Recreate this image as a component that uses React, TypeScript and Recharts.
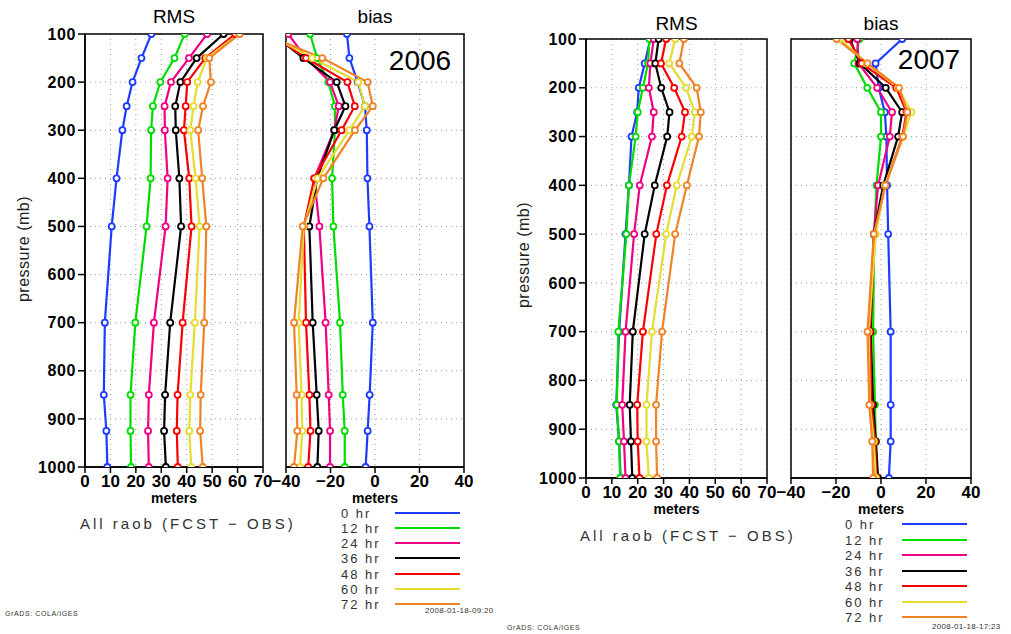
import { LineChart, Line, XAxis, YAxis, CartesianGrid, ReferenceArea } from 'recharts';

// pressure levels (mb), top of the atmosphere first
const levels = [100, 150, 200, 250, 300, 400, 500, 700, 850, 925, 1000];
const pressureTicks = [100, 200, 300, 400, 500, 600, 700, 800, 900, 1000];
const rmsTicks = [0, 10, 20, 30, 40, 50, 60, 70];
const biasTicks = [-40, -20, 0, 20, 40];

const seriesNames = ['0 hr', '12 hr', '24 hr', '36 hr', '48 hr', '60 hr', '72 hr'];
const seriesColors = ['#1e3cff', '#00dc00', '#f00082', '#000000', '#fa0000', '#e6dc32', '#f08228'];

// one row per forecast hour, one value per level
const rms2006 = [
  [26.1, 22.2, 18.7, 16.4, 14.7, 12.4, 10.5, 7.8, 7.4, 8.4, 8.8],
  [39.2, 35.2, 29.6, 26.7, 26.0, 25.8, 24.2, 19.8, 17.9, 17.9, 18.1],
  [48.0, 40.9, 33.8, 31.3, 31.4, 32.5, 31.7, 27.1, 25.1, 24.8, 25.1],
  [54.5, 43.9, 37.5, 35.5, 35.7, 37.1, 37.8, 33.5, 31.5, 31.1, 31.8],
  [59.1, 47.3, 40.2, 39.6, 38.9, 41.0, 41.9, 38.4, 36.4, 36.1, 36.5],
  [60.4, 48.0, 44.3, 42.7, 41.4, 43.5, 45.1, 43.2, 41.4, 41.0, 41.8],
  [60.8, 48.9, 49.5, 46.4, 44.5, 46.1, 47.7, 46.9, 45.5, 45.3, 46.3],
];

const bias2006 = [
  [-12.6, -11.5, -7.8, -4.5, -3.7, -3.4, -2.5, -1.0, -2.4, -3.3, -4.2],
  [-29.2, -26.0, -21.0, -18.0, -18.0, -19.3, -18.7, -15.7, -14.5, -13.6, -13.6],
  [-39.0, -31.0, -20.2, -16.3, -18.3, -27.3, -25.0, -22.2, -20.8, -20.2, -20.2],
  [-46.0, -32.2, -17.2, -13.3, -18.3, -26.0, -29.5, -28.0, -26.2, -25.3, -25.9],
  [-47.0, -31.0, -12.4, -9.1, -15.0, -27.3, -32.0, -31.0, -29.5, -29.0, -30.0],
  [-48.0, -28.2, -7.5, -4.5, -11.5, -25.8, -32.0, -34.3, -33.0, -32.7, -33.7],
  [-50.0, -23.7, -3.3, -1.0, -9.0, -23.2, -32.5, -36.4, -35.2, -34.9, -36.4],
];

const rms2007 = [
  [24.9, 22.7, 20.4, 19.8, 17.6, 16.6, 15.3, 12.8, 11.7, 12.8, 13.4],
  [24.5, 24.0, 22.0, 20.0, 19.2, 16.6, 15.6, 12.5, 11.9, 12.8, 13.2],
  [26.2, 24.9, 24.3, 26.2, 25.5, 20.8, 18.6, 15.3, 14.0, 14.7, 15.3],
  [28.1, 26.8, 29.1, 32.3, 31.4, 26.6, 22.7, 18.1, 16.9, 17.4, 17.9],
  [31.0, 29.0, 34.1, 38.3, 37.0, 31.3, 27.2, 22.0, 19.8, 20.0, 20.7],
  [34.5, 32.2, 38.7, 42.1, 40.9, 35.1, 31.0, 25.5, 23.4, 23.4, 24.3],
  [37.9, 36.1, 42.8, 44.4, 43.7, 39.0, 34.5, 29.4, 27.1, 27.1, 27.5],
];

const bias2007 = [
  [9.4, -2.4, -1.0, 1.7, 2.4, 2.7, 3.2, 4.3, 4.3, 4.3, 3.5],
  [-9.6, -11.9, -6.1, 0.0, 0.0, -2.0, -3.0, -3.5, -2.7, -2.3, -1.7],
  [-10.5, -10.0, -1.7, 4.9, 3.9, -1.3, -3.2, -4.9, -4.2, -3.5, -2.3],
  [-13.8, -9.4, 2.1, 9.4, 7.6, 1.0, -3.2, -4.6, -3.5, -2.3, -1.3],
  [-14.5, -8.6, 6.8, 11.3, 9.5, 1.7, -2.7, -4.9, -4.2, -2.7, -2.0],
  [-18.2, -6.4, 7.6, 13.5, 9.8, 1.7, -2.3, -5.5, -4.9, -3.2, -2.3],
  [-19.7, -6.0, 8.0, 11.7, 9.8, 2.0, -3.2, -6.0, -5.2, -3.9, -3.5],
];

const font = '"Liberation Sans", Arial, sans-serif';

const fmtTick = (v: number) => (v < 0 ? '\u2212' + Math.abs(v) : String(v));

type PanelProps = {
  left: number;
  top: number;
  w: number;
  h: number;
  values: number[][];
  xDomain: [number, number];
  xTicks: number[];
  showY: boolean;
};

const Panel = ({ left, top, w, h, values, xDomain, xTicks, showY }: PanelProps) => {
  const data = levels.map((p, i) => {
    const row: Record<string, number> = { p };
    values.forEach((s, k) => {
      row['s' + k] = s[i];
    });
    return row;
  });
  const yW = showY ? 70 : 0;
  const ml = showY ? 0 : 24;
  const mt = 10;
  const mr = 14;
  const xh = 28;
  return (
    <div style={{ position: 'absolute', left: left - yW - ml, top: top - mt }}>
      <LineChart
        width={w + yW + ml + mr}
        height={h + mt + xh}
        layout="vertical"
        data={data}
        margin={{ top: mt, right: mr, bottom: 0, left: ml }}
      >
        <CartesianGrid stroke="#9a9a9a" strokeDasharray="1 4" />
        <XAxis
          type="number"
          domain={xDomain}
          ticks={xTicks}
          allowDataOverflow
          interval={0}
          height={xh}
          tickSize={6}
          tickMargin={2}
          tickFormatter={fmtTick}
          tick={{ fontSize: 17, fontWeight: 700, fill: '#000', fontFamily: font }}
          axisLine={{ stroke: '#000', strokeWidth: 1.5 }}
          tickLine={{ stroke: '#000', strokeWidth: 1.5 }}
        />
        <YAxis
          type="number"
          dataKey="p"
          domain={[100, 1000]}
          ticks={pressureTicks}
          allowDataOverflow
          interval={0}
          width={yW}
          hide={!showY}
          tickSize={7}
          tickMargin={2}
          tick={{ fontSize: 16, fontWeight: 700, fill: '#000', fontFamily: font, letterSpacing: 0.6 }}
          axisLine={{ stroke: '#000', strokeWidth: 1.5 }}
          tickLine={{ stroke: '#000', strokeWidth: 1.5 }}
        />
        <ReferenceArea
          x1={xDomain[0]}
          x2={xDomain[1]}
          y1={100}
          y2={1000}
          fill="none"
          stroke="#000"
          strokeWidth={1.5}
          fillOpacity={0}
        />
        {seriesNames.map((name, k) => (
          <Line
            key={name}
            name={name}
            dataKey={'s' + k}
            stroke={seriesColors[k]}
            strokeWidth={2.2}
            dot={{ r: 3, fill: '#fff', stroke: seriesColors[k], strokeWidth: 1.8 }}
            isAnimationActive={false}
          />
        ))}
      </LineChart>
    </div>
  );
};

type TextProps = {
  x: number;
  y: number;
  children: React.ReactNode;
  size: number;
  anchor?: 'start' | 'middle' | 'end';
  bold?: boolean;
  color?: string;
  spacing?: number;
  rotate?: boolean;
};

const Label = ({ x, y, children, size, anchor = 'middle', bold, color = '#000', spacing = 0, rotate }: TextProps) => {
  const tx = anchor === 'start' ? '0' : anchor === 'end' ? '-100%' : '-50%';
  return (
    <div
      style={{
        position: 'absolute',
        left: x,
        top: y,
        transform: `translate(${tx}, -50%)${rotate ? ' rotate(-90deg)' : ''}`,
        fontSize: size,
        fontWeight: bold ? 700 : 400,
        color,
        letterSpacing: spacing,
        whiteSpace: 'nowrap',
        lineHeight: 1,
      }}
    >
      {children}
    </div>
  );
};

type FigureProps = {
  rmsBox: [number, number, number, number];
  biasBox: [number, number, number, number];
  rms: number[][];
  bias: number[][];
  year: string;
  yearPos: [number, number];
  titleY: number;
  metersY: number;
  pressurePos: [number, number];
  noteX: number;
  noteY: number;
  legendX: number;
  legendLineX: [number, number];
  legendY: number;
  legendStep: number;
  footerLeft: [number, number];
  stamp: string;
  stampPos: [number, number];
};

const Figure = (f: FigureProps) => {
  const [rx, ry, rw, rh] = f.rmsBox;
  const [bx, by, bw, bh] = f.biasBox;
  return (
    <>
      <Panel left={rx} top={ry} w={rw} h={rh} values={f.rms} xDomain={[0, 70]} xTicks={rmsTicks} showY />
      <Panel left={bx} top={by} w={bw} h={bh} values={f.bias} xDomain={[-40, 40]} xTicks={biasTicks} showY={false} />
      <Label x={rx + rw / 2} y={f.titleY} size={19}>RMS</Label>
      <Label x={bx + bw / 2} y={f.titleY} size={19}>bias</Label>
      <Label x={f.yearPos[0]} y={f.yearPos[1]} size={28}>{f.year}</Label>
      <Label x={f.pressurePos[0]} y={f.pressurePos[1]} size={16} color="#222" spacing={0.5} rotate>
        pressure (mb)
      </Label>
      <Label x={rx + rw / 2} y={f.metersY} size={14} bold>meters</Label>
      <Label x={bx + bw / 2} y={f.metersY} size={14} bold>meters</Label>
      <Label x={f.noteX} y={f.noteY} size={15} anchor="start" color="#333" spacing={3}>
        All raob (FCST − OBS)
      </Label>
      {seriesNames.map((name, k) => (
        <div key={name}>
          <Label x={f.legendX} y={f.legendY + k * f.legendStep} size={13} anchor="start" color="#333" spacing={2}>
            {name}
          </Label>
          <div
            style={{
              position: 'absolute',
              left: f.legendLineX[0],
              top: Math.round(f.legendY + k * f.legendStep - 1),
              width: f.legendLineX[1] - f.legendLineX[0],
              height: 2,
              background: seriesColors[k],
            }}
          />
        </div>
      ))}
      <Label x={f.footerLeft[0]} y={f.footerLeft[1]} size={7} anchor="start" color="#333" spacing={0.6}>
        GrADS: COLA/IGES
      </Label>
      <Label x={f.stampPos[0]} y={f.stampPos[1]} size={8} anchor="start" color="#333" spacing={0.3}>
        {f.stamp}
      </Label>
    </>
  );
};

export default function App() {
  return (
    <div
      style={{
        position: 'absolute',
        left: 0,
        top: 0,
        width: 1011,
        height: 634,
        background: '#fff',
        fontFamily: font,
        overflow: 'hidden',
      }}
    >
      <Figure
        rmsBox={[85, 34, 178, 433]}
        biasBox={[286, 34, 178, 433]}
        rms={rms2006}
        bias={bias2006}
        year="2006"
        yearPos={[420, 61]}
        titleY={16}
        metersY={498}
        pressurePos={[24, 249]}
        noteX={80}
        noteY={523}
        legendX={341}
        legendLineX={[395, 460]}
        legendY={512.7}
        legendStep={15.2}
        footerLeft={[5, 613]}
        stamp="2008-01-18-09:20"
        stampPos={[425, 611]}
      />
      <Figure
        rmsBox={[586, 39, 181, 439]}
        biasBox={[791, 39, 180, 439]}
        rms={rms2007}
        bias={bias2007}
        year="2007"
        yearPos={[929, 60]}
        titleY={23}
        metersY={509}
        pressurePos={[524, 255]}
        noteX={580}
        noteY={535}
        legendX={845}
        legendLineX={[902, 967]}
        legendY={524.3}
        legendStep={15.45}
        footerLeft={[507, 627]}
        stamp="2008-01-18-17:23"
        stampPos={[932, 627]}
      />
    </div>
  );
}
